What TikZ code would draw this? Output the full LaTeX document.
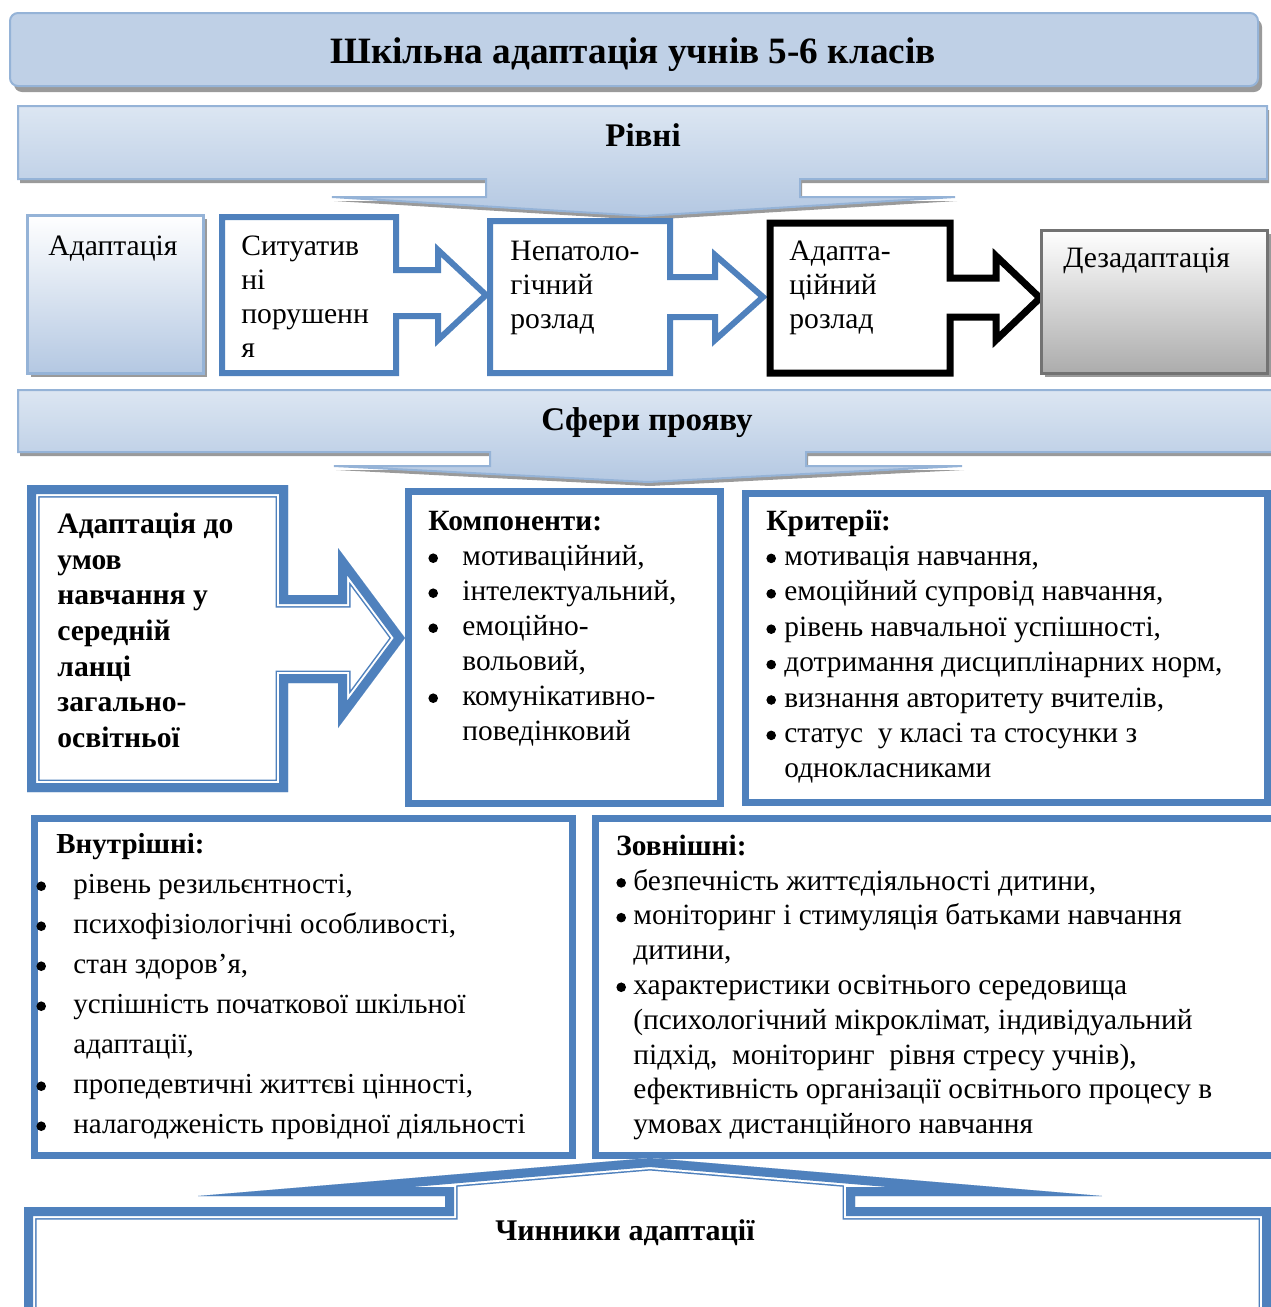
\documentclass[tikz,border=0pt]{standalone}
\usepackage{fontspec}
\setmainfont{Liberation Serif}
\definecolor{wblue}{HTML}{4F81BD}
\definecolor{lblue}{HTML}{95B3D7}
\definecolor{pblue}{HTML}{B4C8E2}
\definecolor{fblue}{HTML}{DCE6F2}
\definecolor{tblue}{HTML}{E6EDF6}
\definecolor{shadegray}{HTML}{9A9A9A}
\newcommand\tsz[2]{\fontsize{#1}{#2}\selectfont}
\newcommand\bl[1]{\makebox[#1][l]{\tikz[baseline=-3.6pt]\fill (0,0) circle (2.4pt);}}
\newcommand\thickthin[1]{%
  \fill[white] #1;
  \begin{scope}
    \clip #1;
    \draw[wblue, line width=12.5pt] #1;
    \draw[white, line width=11pt] #1;
    \draw[wblue, line width=9pt] #1;
  \end{scope}}
\begin{document}
\begin{tikzpicture}[x=0.5pt, y=-0.5pt,
    txt/.style={anchor=north west, inner sep=0pt, align=left},
    lvl/.style={draw=wblue, line width=3pt, fill=white},
    bx/.style={draw=wblue, line width=3.5pt},
    shadow/.style={fill=shadegray}]
    \useasboundingbox (0,0) rectangle (1270,1307);
    % title
    \fill[shadow, rounded corners=4pt] (14,19) rectangle (1262,92);
    \shade[rounded corners=4pt, top color=pblue!85, middle color=tblue, bottom color=pblue!85] (10,13) rectangle (1258,86);
    \draw[lblue, line width=1pt, rounded corners=4pt] (10,13) rectangle (1258,86);
    \node (title) at (633,63) [anchor=base, font=\tsz{18.6}{22}\bfseries] {Шкільна адаптація учнів 5-6 класів};
    % levels
    \def\rivnipath{(18,106) -- (1267,106) -- (1267,179) -- (800,179) -- (800,197) -- (955,197) -- (644,216) -- (332,197) -- (486,197) -- (486,179) -- (18,179) -- cycle}
    \fill[shadow, shift={(2,4)}] \rivnipath;
    \shade[top color=fblue, middle color=white, bottom color=pblue] \rivnipath;
    \draw[lblue, line width=1pt] \rivnipath;
    \node (rivni) at (643,146) [anchor=base, font=\tsz{16.5}{20}\bfseries] {Рівні};
    \fill[shadow] (31,219) rectangle (207,377);
    \shade[top color=white, bottom color=pblue] (27,215) rectangle (203,373);
    \draw[lblue, line width=1.5pt] (27,215) rectangle (203,373);
    \node[txt, font=\tsz{14.8}{17}] (adapt) at (48,231) {\strut Адаптація};
    \draw[lvl] (222,217) -- (396,217) -- (396,270) -- (438,270) -- (438,250) -- (486,295) -- (438,340) -- (438,316) -- (396,316) -- (396,373) -- (222,373) -- cycle;
    \node[txt, font=\tsz{14.8}{17}] (sit) at (241,231) {\strut Ситуатив\\ні\\порушенн\\я};
    \draw[lvl] (490,221) -- (670,221) -- (670,277) -- (715,277) -- (715,255) -- (763,297) -- (715,340) -- (715,317) -- (670,317) -- (670,373) -- (490,373) -- cycle;
    \node[txt, font=\tsz{14.8}{17}] (nepat) at (510,236) {\strut Непатоло-\\гічний\\розлад};
    \draw[lvl, draw=black, line width=3.5pt] (770,223) -- (950,223) -- (950,278) -- (996,278) -- (996,256) -- (1040,298) -- (996,340) -- (996,317) -- (950,317) -- (950,373) -- (770,373) -- cycle;
    \node[txt, font=\tsz{14.8}{17}] (adrozlad) at (789,236) {\strut Адапта-\\ційний\\розлад};
    \fill[shadow] (1045,234) rectangle (1271,377);
    \shade[top color=white, bottom color=gray!65] (1041,230) rectangle (1267,373);
    \draw[gray!90!black, line width=1.5pt] (1041,230) rectangle (1267,373);
    \node[txt, font=\tsz{14.8}{17}] (dezad) at (1063,243) {\strut Дезадаптація};
    % spheres
    \def\sferypath{(18,390) -- (1275,390) -- (1275,452) -- (806,452) -- (806,466) -- (962,466) -- (648,482) -- (334,466) -- (490,466) -- (490,452) -- (18,452) -- cycle}
    \fill[shadow, shift={(2,4)}] \sferypath;
    \shade[top color=fblue, middle color=white, bottom color=pblue] \sferypath;
    \draw[lblue, line width=1pt] \sferypath;
    \node (sfery) at (647,430) [anchor=base, font=\tsz{16.5}{20}\bfseries] {Сфери прояву};
    \thickthin{(27,485) -- (288,485) -- (288,595) -- (338,595) -- (338,548) -- (405,638) -- (338,728) -- (338,683) -- (288,683) -- (288,792) -- (27,792) -- cycle}
    \node[txt, font=\tsz{14.8}{17.85}\bfseries] (umovy) at (57,508) {\strut Адаптація до\\умов\\навчання у\\середній\\ланці\\загально-\\освітньої};
    \draw[bx] (408,491) rectangle (720,803);
    \node[txt, font=\tsz{14.7}{17.5}] (komp) at (428,505.5) {\strut\textbf{Компоненти:}\\
        \bl{17pt}мотиваційний,\\\bl{17pt}інтелектуальний,\\\bl{17pt}емоційно-\\\hspace*{17pt}вольовий,\\
        \bl{17pt}комунікативно-\\\hspace*{17pt}поведінковий};
    \draw[bx] (745,493) rectangle (1267,802);
    \node[txt, font=\tsz{14.7}{17.7}] (kryt) at (766,505) {\strut\textbf{Критерії:}\\
        \bl{9pt}мотивація навчання,\\\bl{9pt}емоційний супровід навчання,\\\bl{9pt}рівень навчальної успішності,\\
        \bl{9pt}дотримання дисциплінарних норм,\\\bl{9pt}визнання авторитету вчителів,\\
        \bl{9pt}статус\ \ у класі та стосунки з\\\hspace*{9pt}однокласниками};
    % factors
    \draw[bx] (34,818) rectangle (572,1155);
    \node[txt, font=\tsz{14.5}{20}] (vnutr) at (36,825) {\strut\hspace*{10pt}\textbf{Внутрішні:}\\
        \bl{18.5pt}рівень резильєнтності,\\\bl{18.5pt}психофізіологічні особливості,\\\bl{18.5pt}стан здоров’я,\\
        \bl{18.5pt}успішність початкової шкільної\\\hspace*{18.5pt}адаптації,\\
        \bl{18.5pt}пропедевтичні життєві цінності,\\\bl{18.5pt}налагодженість провідної діяльності};
    \draw[bx] (595,818) rectangle (1275,1155);
    \node[txt, font=\tsz{14.7}{17.4}] (zovn) at (616,830.5) {\strut\textbf{Зовнішні:}\\
        \bl{8.5pt}безпечність життєдіяльності дитини,\\\bl{8.5pt}моніторинг і стимуляція батьками навчання\\\hspace*{8.5pt}дитини,\\
        \bl{8.5pt}характеристики освітнього середовища\\\hspace*{8.5pt}(психологічний мікроклімат, індивідуальний\\
        \hspace*{8.5pt}підхід,\ \ моніторинг\ \ рівня стресу учнів),\\\hspace*{8.5pt}ефективність організації освітнього процесу в\\
        \hspace*{8.5pt}умовах дистанційного навчання};
    \thickthin{(24,1330) -- (24,1207) -- (445,1207) -- (445,1196) -- (198,1196) -- (650,1158) -- (1102,1196) -- (855,1196) -- (855,1207) -- (1271,1207) -- (1271,1330) -- cycle}
    \node (chyn) at (625,1240) [anchor=base, font=\tsz{15}{18}\bfseries] {Чинники адаптації};
\end{tikzpicture}
\end{document}
